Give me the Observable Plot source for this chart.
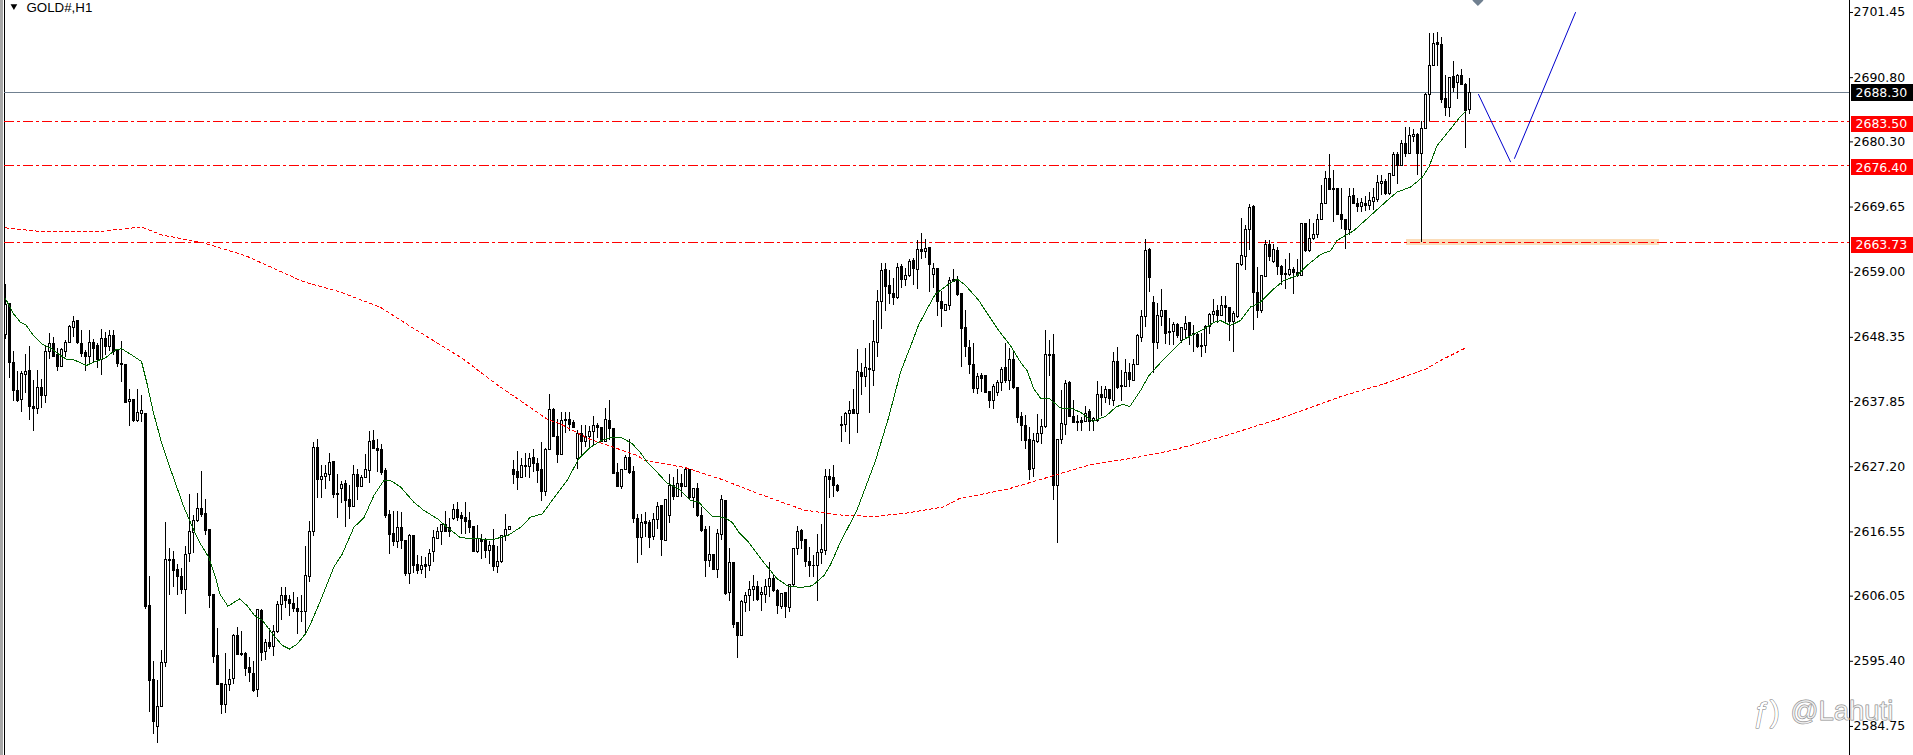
<!DOCTYPE html>
<html>
<head>
<meta charset="utf-8">
<script src="https://cdn.jsdelivr.net/npm/d3@7"></script>
<script src="https://cdn.jsdelivr.net/npm/@observablehq/plot@0.6"></script>
<style>html,body{margin:0;padding:0;background:#fff}svg{display:block}</style>
</head>
<body>
<div id="chart"></div>
<script>
const highs = [
2657.0,2653.8,2646.1,2642.7,2642.7,2645.6,2646.9,2641.3,2642.9,2641.4,
2647.0,2649.0,2648.3,2646.5,2646.5,2647.8,2650.3,2651.8,2651.1,2649.4,
2646.2,2649.4,2648.0,2647.3,2649.6,2649.2,2649.5,2649.4,2646.3,2647.6,
2643.9,2639.9,2638.1,2639.9,2638.8,2635.9,2609.3,2595.4,2592.3,2597.2,
2618.1,2613.8,2613.4,2611.3,2610.5,2614.2,2622.7,2619.2,2622.8,2626.4,
2621.8,2616.8,2606.2,2600.7,2591.7,2596.6,2594.0,2599.8,2600.9,2600.3,
2596.9,2596.1,2595.4,2603.8,2603.9,2598.9,2600.7,2601.2,2605.2,2607.4,
2607.5,2606.2,2606.7,2605.9,2606.1,2614.2,2618.2,2631.2,2631.7,2627.4,
2627.4,2629.3,2628.0,2626.0,2624.8,2624.9,2624.1,2627.4,2626.7,2625.8,
2629.2,2633.0,2633.1,2631.6,2630.8,2626.9,2620.0,2619.9,2619.9,2619.8,
2615.1,2616.1,2615.9,2612.7,2612.5,2612.4,2613.6,2616.8,2617.2,2617.8,
2619.9,2618.7,2621.0,2621.4,2619.8,2621.4,2619.8,2617.4,2617.6,2616.2,
2615.4,2615.0,2617.0,2614.1,2615.9,2619.4,2617.5,2628.2,2629.7,2628.5,
2629.3,2629.3,2630.0,2628.5,2631.2,2630.1,2639.0,2636.7,2635.0,2636.0,
2636.0,2636.0,2634.7,2633.1,2633.9,2633.9,2633.8,2635.4,2634.2,2633.6,
2636.7,2638.1,2633.4,2627.7,2626.6,2629.0,2631.6,2627.2,2619.4,2619.4,
2619.7,2618.4,2619.5,2621.4,2620.9,2621.7,2626.0,2625.5,2626.7,2626.0,
2626.9,2626.7,2623.7,2624.5,2620.6,2617.4,2617.4,2612.7,2617.0,2622.5,
2621.7,2613.8,2611.5,2601.6,2605.3,2606.7,2608.5,2609.4,2608.5,2607.5,
2608.7,2611.6,2609.6,2607.2,2606.5,2606.7,2607.9,2613.9,2617.5,2616.9,
2615.3,2614.0,2612.7,2616.1,2617.8,2626.7,2626.7,2627.4,2624.3,2635.4,
2636.1,2637.8,2639.9,2646.3,2644.0,2646.5,2647.3,2651.1,2656.0,2660.5,
2660.5,2659.3,2657.9,2660.5,2660.2,2659.6,2661.0,2661.2,2664.2,2665.3,
2664.3,2662.9,2660.4,2659.6,2655.9,2653.7,2658.1,2659.5,2658.3,2655.5,
2652.7,2647.8,2647.4,2642.5,2642.4,2642.1,2639.4,2640.6,2641.3,2643.5,
2647.3,2646.5,2645.9,2640.2,2636.1,2635.6,2633.6,2632.6,2635.7,2635.0,
2649.5,2647.8,2648.8,2631.6,2639.6,2641.3,2641.2,2638.1,2635.6,2635.3,
2637.0,2636.5,2635.3,2641.1,2640.3,2640.3,2639.7,2645.8,2646.7,2642.9,
2644.7,2644.0,2644.7,2648.8,2652.7,2664.3,2662.9,2655.0,2653.9,2656.2,
2652.6,2651.4,2650.8,2650.6,2650.0,2651.7,2650.8,2650.3,2648.9,2648.9,
2650.3,2652.2,2654.5,2653.6,2655.0,2655.1,2653.2,2652.6,2660.3,2667.7,
2666.6,2670.1,2669.9,2659.7,2658.3,2664.1,2664.2,2663.6,2663.0,2660.1,
2661.0,2662.1,2659.8,2661.0,2666.9,2666.9,2667.6,2667.0,2668.5,2673.2,
2675.4,2678.3,2675.6,2672.6,2672.6,2667.6,2672.6,2672.6,2671.1,2671.1,
2671.3,2672.1,2672.6,2674.8,2674.8,2674.1,2675.1,2678.6,2678.6,2680.5,
2682.7,2682.7,2682.4,2681.6,2683.6,2688.2,2698.0,2698.0,2698.2,2697.4,
2691.2,2690.9,2693.4,2691.3,2692.2,2689.9,2690.7];

const bodyTops = [
2653.7,2653.8,2644.2,2639.5,2642.3,2642.7,2642.8,2637.0,2640.1,2640.1,
2646.0,2647.3,2647.3,2645.4,2646.3,2647.5,2650.1,2650.9,2651.0,2647.3,
2645.8,2647.5,2647.5,2646.9,2648.0,2648.0,2648.5,2648.5,2646.3,2644.0,
2643.9,2638.1,2638.1,2636.0,2636.3,2635.9,2604.5,2592.3,2588.0,2595.2,
2611.9,2612.0,2612.0,2610.4,2609.2,2612.8,2616.5,2618.4,2620.3,2620.3,
2619.4,2616.8,2606.2,2596.2,2591.7,2591.6,2592.4,2599.6,2599.6,2596.6,
2596.6,2594.3,2593.3,2603.8,2603.7,2598.4,2598.4,2600.2,2604.6,2606.1,
2606.1,2605.4,2604.8,2604.0,2603.5,2609.4,2616.5,2630.3,2630.3,2625.5,
2626.0,2627.8,2627.9,2622.7,2624.2,2624.3,2621.7,2625.9,2625.9,2625.4,
2626.6,2631.3,2631.4,2630.1,2629.9,2626.5,2619.3,2616.2,2617.2,2617.2,
2615.1,2615.9,2615.9,2611.1,2611.0,2611.1,2613.0,2615.5,2616.6,2617.6,
2617.6,2617.2,2620.2,2620.2,2619.2,2618.8,2618.4,2617.3,2615.4,2615.3,
2615.2,2614.2,2614.2,2611.6,2615.9,2616.9,2617.4,2626.6,2626.3,2627.4,
2627.4,2628.5,2628.7,2627.7,2626.6,2630.0,2636.5,2636.5,2632.1,2634.7,
2634.9,2634.9,2634.3,2632.6,2632.6,2632.1,2632.8,2633.8,2633.8,2633.5,
2634.8,2634.6,2633.4,2626.2,2626.6,2628.7,2628.7,2626.3,2618.7,2618.0,
2618.1,2618.0,2618.5,2620.6,2620.8,2621.7,2624.0,2624.1,2624.3,2624.3,
2626.6,2626.7,2623.6,2623.6,2619.1,2616.8,2612.7,2612.7,2616.2,2621.7,
2621.6,2611.5,2611.5,2601.6,2605.1,2606.1,2607.1,2607.6,2607.6,2606.6,
2607.6,2608.9,2608.9,2606.9,2606.4,2606.5,2607.8,2613.7,2616.6,2616.7,
2615.3,2611.6,2611.0,2613.1,2613.6,2625.6,2625.5,2625.3,2624.1,2634.1,
2635.8,2636.3,2636.5,2642.7,2642.6,2643.4,2643.2,2647.6,2654.2,2659.2,
2659.3,2656.7,2655.5,2659.7,2659.8,2658.4,2660.7,2660.8,2662.7,2662.6,
2662.8,2662.9,2659.5,2659.6,2654.2,2653.7,2657.6,2657.8,2657.8,2655.4,
2649.8,2646.6,2643.9,2641.8,2642.0,2642.0,2639.4,2640.3,2640.9,2643.0,
2643.3,2644.6,2644.6,2640.1,2635.4,2633.9,2631.5,2631.4,2632.6,2633.7,
2645.5,2645.5,2645.4,2631.6,2634.2,2640.8,2640.9,2635.3,2634.5,2634.6,
2635.8,2636.2,2635.0,2639.0,2639.0,2639.7,2639.7,2644.4,2644.4,2640.4,
2642.6,2642.6,2643.9,2648.5,2651.6,2662.5,2662.7,2653.9,2651.9,2652.6,
2652.6,2649.3,2650.4,2650.4,2649.8,2650.6,2650.7,2648.9,2648.8,2647.0,
2650.0,2652.0,2652.5,2652.7,2653.5,2653.5,2653.2,2652.1,2660.3,2661.6,
2665.9,2669.5,2669.7,2655.6,2658.3,2663.5,2663.5,2662.7,2662.5,2659.9,
2658.7,2659.3,2659.4,2658.9,2666.8,2666.9,2664.5,2665.1,2667.6,2670.2,
2674.2,2674.2,2672.6,2672.6,2668.4,2667.6,2671.3,2671.5,2670.2,2670.3,
2670.2,2670.6,2671.1,2673.6,2673.8,2673.8,2675.0,2678.2,2678.2,2680.0,
2680.0,2681.2,2681.5,2681.5,2682.4,2687.9,2692.7,2696.3,2696.5,2696.2,
2687.3,2690.8,2690.9,2691.1,2691.1,2689.6,2688.3];

const bodyBottoms = [
2648.7,2644.1,2639.5,2638.0,2638.1,2642.2,2636.9,2636.6,2636.6,2638.7,
2638.7,2646.0,2645.2,2643.5,2643.5,2646.0,2647.4,2649.9,2647.4,2645.6,
2645.1,2645.1,2646.5,2644.6,2644.6,2646.8,2646.8,2646.0,2644.0,2643.8,
2637.7,2637.8,2634.6,2634.6,2635.9,2604.2,2592.1,2585.4,2584.6,2587.9,
2595.1,2611.8,2610.2,2609.2,2607.0,2607.0,2612.9,2616.3,2618.4,2619.3,
2616.7,2606.0,2596.1,2591.6,2588.2,2588.2,2591.5,2592.5,2596.5,2596.5,
2594.1,2593.5,2590.6,2590.7,2596.8,2596.9,2597.7,2597.7,2600.2,2604.6,
2605.3,2604.7,2604.0,2603.4,2603.4,2603.5,2609.1,2616.6,2625.0,2625.0,
2625.5,2625.9,2622.6,2622.5,2623.5,2621.6,2620.6,2620.7,2623.9,2623.9,
2625.3,2626.5,2630.1,2629.8,2626.2,2619.2,2616.0,2614.9,2614.9,2615.1,
2609.7,2609.6,2611.0,2610.2,2610.4,2610.8,2611.0,2613.2,2615.4,2616.6,
2616.5,2616.5,2618.6,2618.9,2618.7,2618.1,2617.2,2613.3,2613.2,2614.9,
2613.5,2613.5,2610.8,2610.8,2611.6,2615.9,2616.8,2625.9,2625.3,2625.3,
2627.1,2627.1,2627.7,2626.5,2623.0,2623.0,2630.0,2632.1,2629.1,2629.1,
2634.7,2634.1,2633.6,2628.4,2631.2,2631.2,2632.0,2632.9,2633.5,2631.2,
2631.2,2633.4,2626.0,2623.9,2623.9,2626.6,2626.2,2618.6,2615.5,2615.5,
2617.8,2615.6,2615.7,2618.5,2615.3,2615.1,2619.2,2622.3,2622.2,2623.9,
2623.9,2622.1,2622.1,2619.1,2616.7,2611.8,2611.8,2610.3,2610.3,2616.1,
2606.4,2606.5,2601.4,2599.6,2599.5,2605.0,2606.0,2607.0,2605.4,2606.2,
2606.3,2607.5,2606.9,2604.4,2604.3,2604.2,2604.1,2607.8,2613.7,2615.0,
2611.6,2610.9,2610.9,2611.0,2613.1,2613.5,2625.1,2624.1,2623.2,2633.9,
2634.0,2635.8,2635.9,2635.9,2641.8,2641.9,2643.0,2642.8,2647.4,2654.1,
2656.6,2655.4,2654.7,2654.7,2657.8,2657.8,2658.3,2659.5,2659.3,2662.3,
2662.3,2660.1,2658.5,2654.1,2653.0,2652.7,2653.4,2657.4,2655.2,2649.7,
2646.7,2643.8,2639.9,2639.9,2641.6,2639.3,2638.0,2638.0,2639.2,2640.9,
2641.2,2641.2,2640.0,2635.2,2633.8,2631.4,2626.7,2626.8,2631.2,2632.6,
2633.7,2645.3,2624.0,2624.0,2631.6,2634.1,2635.3,2634.3,2634.3,2634.3,
2634.5,2634.5,2634.6,2634.7,2638.5,2638.5,2638.2,2638.0,2640.1,2640.2,
2640.3,2641.3,2641.2,2643.8,2648.3,2651.6,2658.1,2647.5,2647.5,2651.7,
2648.9,2649.0,2649.3,2648.5,2647.7,2649.6,2648.6,2648.7,2646.7,2646.7,
2646.9,2650.0,2652.0,2651.8,2651.9,2653.2,2650.8,2650.8,2651.7,2660.2,
2661.5,2665.9,2655.6,2652.6,2652.6,2658.2,2661.5,2660.6,2659.9,2658.6,
2658.5,2658.6,2658.8,2658.3,2658.3,2662.4,2662.4,2664.4,2665.1,2667.5,
2670.2,2672.5,2672.4,2668.3,2667.5,2665.9,2665.9,2670.1,2669.6,2669.6,
2669.8,2669.8,2670.4,2670.8,2673.4,2671.8,2671.8,2674.8,2676.3,2676.3,
2678.4,2678.4,2681.1,2678.3,2678.3,2682.4,2687.9,2692.7,2696.1,2687.2,
2685.8,2685.8,2689.1,2689.9,2689.6,2685.4,2685.5];

const lows = [
2648.0,2641.7,2637.9,2637.7,2636.1,2639.1,2634.7,2633.0,2635.7,2636.7,
2637.6,2644.8,2645.0,2642.8,2643.4,2645.1,2647.3,2648.4,2647.2,2645.1,
2642.7,2643.7,2644.1,2643.2,2642.1,2645.4,2646.1,2645.4,2643.4,2641.0,
2637.6,2633.7,2634.5,2634.5,2634.5,2603.9,2587.1,2583.5,2581.9,2587.8,
2594.4,2606.2,2607.5,2606.2,2606.3,2603.0,2611.5,2613.0,2618.1,2618.9,
2616.0,2604.0,2595.0,2591.5,2586.7,2586.9,2590.5,2591.6,2596.3,2596.2,
2592.9,2592.0,2590.3,2589.4,2595.4,2595.5,2597.3,2596.2,2600.0,2602.1,
2604.0,2602.7,2603.4,2599.8,2601.8,2599.6,2608.3,2615.8,2622.0,2622.0,
2623.4,2624.8,2622.0,2618.8,2621.2,2617.2,2618.5,2620.5,2621.6,2623.8,
2625.2,2624.5,2630.0,2626.3,2625.8,2618.8,2612.9,2614.1,2613.9,2613.6,
2609.3,2608.0,2609.7,2609.6,2609.6,2608.9,2610.0,2611.6,2615.3,2614.3,
2616.5,2615.6,2618.4,2618.3,2616.2,2616.2,2616.3,2613.2,2613.0,2612.0,
2612.2,2611.3,2610.0,2609.8,2611.4,2615.0,2616.8,2624.3,2623.3,2625.2,
2625.4,2625.2,2626.2,2624.4,2621.5,2622.3,2629.9,2631.9,2627.8,2629.0,
2632.7,2632.9,2633.4,2626.7,2628.8,2630.4,2630.1,2630.7,2631.8,2631.1,
2631.1,2631.5,2625.9,2623.8,2623.4,2626.6,2626.0,2618.0,2611.4,2612.7,
2615.7,2613.8,2615.1,2617.0,2612.5,2615.0,2617.9,2621.7,2622.1,2622.2,
2623.8,2621.9,2620.3,2618.9,2616.5,2609.1,2610.8,2610.2,2608.9,2615.1,
2606.1,2605.2,2600.7,2595.8,2599.4,2603.3,2603.6,2605.1,2605.2,2603.5,
2604.8,2605.9,2606.7,2603.1,2603.8,2602.4,2603.4,2607.7,2612.7,2613.6,
2610.8,2609.1,2609.1,2605.2,2611.3,2612.7,2622.0,2622.2,2623.0,2631.2,
2632.8,2630.9,2635.9,2632.7,2638.8,2640.2,2635.9,2640.3,2645.1,2649.7,
2652.5,2653.7,2653.6,2654.5,2656.4,2656.7,2658.2,2656.8,2656.1,2661.0,
2661.2,2655.7,2656.4,2651.8,2649.9,2652.7,2652.7,2657.3,2655.1,2643.5,
2645.1,2642.3,2639.1,2639.0,2639.4,2639.2,2636.8,2636.6,2638.7,2639.5,
2640.8,2639.7,2639.9,2634.2,2631.4,2630.0,2624.9,2625.4,2631.0,2630.8,
2633.4,2642.0,2621.6,2614.6,2630.8,2632.3,2635.2,2634.2,2632.9,2633.0,
2634.5,2633.0,2632.9,2634.5,2635.4,2637.5,2637.2,2637.0,2639.9,2637.8,
2640.2,2640.2,2641.1,2643.7,2647.5,2649.9,2655.7,2642.4,2646.4,2650.1,
2647.2,2647.0,2647.0,2648.1,2647.4,2648.1,2647.0,2645.8,2646.6,2645.1,
2645.7,2648.8,2650.6,2650.6,2651.8,2650.8,2647.6,2645.8,2651.4,2660.0,
2659.3,2662.5,2649.4,2651.4,2652.3,2658.1,2660.8,2660.5,2658.4,2656.8,
2656.2,2658.3,2655.4,2658.2,2658.3,2662.3,2662.2,2664.2,2664.5,2667.4,
2670.1,2672.3,2667.2,2668.2,2666.0,2662.7,2665.0,2670.0,2668.8,2668.8,
2669.0,2669.1,2669.1,2670.4,2671.5,2671.6,2671.5,2674.7,2673.4,2676.2,
2677.8,2678.2,2680.2,2674.8,2663.8,2682.3,2683.6,2692.6,2692.7,2686.6,
2684.5,2684.3,2688.4,2687.3,2689.5,2679.3,2684.7];

const rising =
"1000110010110011110001001010000101100011" +
"1000011110000001110000010101110000011101" +
"1100100101110000001001001011110010000010" +
"0101111001010001100100010111001000110001" +
"0011011010101000101101001111011100101110" +
"0001110000110101011100010110101010011000" +
"0001000111010000011110011100001011010100" +
"1011110011001011000011101001111100110100" +
"0100101111100000100101111011010110111100" +
"0101001";

const greenBars = [1,3,4.75,6,8,10,12.25,14.75,16.4,18,21.25,23,26,28.5,30,32.7,35,36.4,38,40.2,43.1,45.6,48.1,49.75,51.8,53.5,54.6,56.6,59.5,61.4,63.25,65.2,68.1,70.2,72,74,76,77.25,79.75,83.1,85.2,88.1,90.6,93.1,95.6,97.25,99.75,103.1,105.6,109,111.4,114.75,119.75,123,126.8,129.75,132.25,135.2,138.9,141.4,144.3,147.25,149.75,151.85,155.2,157.7,159.75,161.4,163.9,166.4,169.3,172.25,174.3,177.7,180.6,182.7,184.3,186.8,190.2,193.9,196.8,200.2,202.7,205.6,207.25,209.75,213.8,218.5,221.8,224.75,227.8,229.3,231.4,233.5,236.4,238.9,241,244.3,246.8,249.3,252.25,254.75,256.4,258.1,259.9,262,264.75,267.25,269.75,272.7,276,278.5,280.2,282.1,284.75,286.85,289.75,292.25,295.2,298.1,300.6,303.1,304.75,307.25,309.75,312.25,314.75,318.1,320.6,323.9,326.4,329.75,332.25,333.9,338.1,342.25,346.4,348.9,352.25,355.2,356.85,358.9,362.25,364.3,366];
const greenPrices = [2654.65,2652.2,2650.8,2650.45,2648.65,2647.3,2646.6,2645.4,2644.7,2644.7,2643.75,2644.3,2645,2646.3,2646.5,2645.4,2644.4,2640.75,2636,2630.7,2625.2,2620.6,2616.8,2614.6,2612.4,2609.15,2606.4,2604.4,2605.6,2604.5,2602.9,2602.1,2599.6,2598,2597.4,2598.25,2599.9,2601.5,2605.3,2610.8,2612.95,2617.3,2618.85,2622.5,2624.95,2624.95,2623.9,2621.4,2620.05,2618.7,2617.3,2615.6,2615.4,2615.3,2616.05,2617.3,2618.95,2619.5,2622.8,2624.95,2628.5,2630.4,2631.4,2631.9,2631.9,2630.95,2629.5,2627.95,2626.3,2624.5,2623.6,2621.7,2621.4,2619.05,2618.95,2618.1,2616.5,2614.85,2611.85,2608.9,2607.6,2607.5,2607.75,2609.4,2611.2,2614.9,2620,2628.2,2635.3,2642.65,2647.8,2650.4,2653,2655.45,2656.85,2657.9,2656.85,2654.4,2651.9,2649.45,2647,2644.3,2642.9,2639.9,2638.3,2638.3,2636.8,2636.8,2636.1,2634.65,2635.4,2636.9,2637.4,2637.05,2639.65,2642.1,2644.2,2645.85,2647.85,2648.9,2649.7,2650.8,2651.1,2650.3,2651.1,2653.3,2654.1,2656.3,2657.65,2658.45,2660.1,2661.9,2662.5,2664.2,2665.8,2668.25,2670.7,2672.1,2672.9,2674.5,2676.2,2679.7,2682.4,2684.1,2685.3];

const redBars = [1,9,25.25,35,40,50.75,61,75.25,84.45,94.65,102.8,115,124.25,136.5,139.75,146.7,158.9,160.75,170.97,180.2,189.35,200.5,208.75,217.9,226,235.25,239.35,251.6,261.75,272,283.2,292.4,304.65,319.75,334.95,346.1,356.25,359.25,366.4];
const redPrices = [2666.25,2665.7,2665.7,2666.4,2665.1,2663.75,2661.7,2657.5,2655.8,2653.3,2649.9,2645,2640.45,2634.95,2634.2,2631.8,2629.05,2628.25,2627.05,2625.1,2622.75,2620.15,2619.35,2619.05,2619.6,2620.6,2621.95,2623.55,2625.5,2627.5,2628.65,2629.85,2632,2635.1,2638.7,2640.85,2643.2,2644.4,2646.75];

const downLegBars = [369.25,377.25];
const downLegPrices = [2688.06,2677.05];
const upLegBars = [378.25,393.5];
const upLegPrices = [2677.6,2701.45];

const levelPrices = [2683.50,2676.40,2663.73];
const lastPrice = 2688.30;
const axisTicks = [2701.45,2690.80,2680.30,2669.65,2659.00,2648.35,2637.85,2627.20,2616.55,2606.05,2595.40,2584.75];

const FONT = "DejaVu Sans";
const bars = d3.range(highs.length);
const crisp = {shapeRendering: "crispEdges"};

const chart = Plot.plot({
  width: 1913,
  height: 755,
  marginLeft: 5,
  marginRight: 64,
  marginTop: 0,
  marginBottom: 0,
  style: {background: "#fff", fontFamily: FONT},
  x: {domain: [1, 462], axis: null},
  y: {domain: [2580, 2703.41], axis: null},
  marks: [
    // left window edge
    Plot.rect([0], {x1: -0.25, x2: 0.5, y1: 2580, y2: 2703.41, fill: "#a8a8a8", ...crisp}),
    Plot.ruleX([0.75], {stroke: "#000", ...crisp}),
    // highlighted zone
    Plot.rect([0], {x1: 351.2, x2: 414.5, y1: 2664.4, y2: 2663.3, fill: "#fbdcb8", ...crisp}),
    // horizontal levels
    Plot.ruleY([lastPrice], {x1: 0.75, x2: 462, stroke: "#708090", dy: -0.5, ...crisp}),
    Plot.ruleY(levelPrices, {x1: 0.75, x2: 462, stroke: "#ff0000", strokeDasharray: "10 3 3 3", dy: -0.5, ...crisp}),
    // candles
    Plot.ruleX(bars, {x: i => i + 1, y1: i => lows[i], y2: i => highs[i], stroke: "#000", ...crisp}),
    Plot.rect(bars, {
      x1: i => i + 1 - 0.25,
      x2: i => i + 1 + 0.25,
      y1: i => bodyBottoms[i],
      y2: i => bodyTops[i],
      fill: i => rising[i] === "1" ? "#fff" : "#000",
      stroke: "#000",
      ...crisp
    }),
    // moving averages
    Plot.line(d3.range(redBars.length), {x: i => redBars[i], y: i => redPrices[i], stroke: "#ff0000", strokeWidth: 1, strokeDasharray: "3 3", ...crisp}),
    Plot.line(d3.range(greenBars.length), {x: i => greenBars[i], y: i => greenPrices[i], stroke: "#006400", strokeWidth: 1, ...crisp}),
    // projected path
    Plot.line(d3.range(2), {x: i => downLegBars[i], y: i => downLegPrices[i], stroke: "#0000cd", strokeWidth: 1}),
    Plot.line(d3.range(2), {x: i => upLegBars[i], y: i => upLegPrices[i], stroke: "#0000cd", strokeWidth: 1}),
    Plot.dot([0], {x: 369.1, y: 2703.41, symbol: "diamond2", r: 5, fill: "#708090"}),
    // price axis
    Plot.ruleX([462], {stroke: "#000", ...crisp}),
    Plot.axisY({
      anchor: "right",
      ticks: axisTicks,
      tickFormat: d => d.toFixed(2),
      tickSize: 3,
      tickPadding: 1,
      label: null,
      fontSize: 12.5,
      fontFamily: FONT,
      color: "#000"
    }),
    // price tags
    Plot.rect([lastPrice], {x1: 462.4, x2: 478, y1: d => d + 1.39, y2: d => d - 1.39, fill: "#000", ...crisp}),
    Plot.rect(levelPrices, {x1: 462.4, x2: 478, y1: d => d + 1.3, y2: d => d - 1.3, fill: "#ff0000", dy: 2, ...crisp}),
    Plot.text([lastPrice], {x: 463.5, y: d => d, text: d => d.toFixed(2), fill: "#fff", textAnchor: "start", fontSize: 12.5, fontFamily: FONT}),
    Plot.text(levelPrices, {x: 463.5, y: d => d, text: d => d.toFixed(2), fill: "#fff", textAnchor: "start", fontSize: 12.5, fontFamily: FONT, dy: 2}),
    // title
    Plot.dot([0], {x: 3.1, y: 2702.5, symbol: "triangle2", rotate: 180, r: 3.2, fill: "#000"}),
    Plot.text(["GOLD#,H1"], {frameAnchor: "top-left", dx: 21, dy: 2.5, fontSize: 13.3, fill: "#000", fontFamily: "Liberation Sans"}),
    // watermark
    Plot.text(["ƒ)"], {x: 441.25, y: 2587, fontSize: 30, fill: "#fff", stroke: "#777", strokeWidth: 1, fontFamily: "Liberation Sans"}),
    Plot.text(["@Lahuti"], {x: 447.25, y: 2587.2, textAnchor: "start", fontSize: 27.5, fill: "#fff", fillOpacity: 0.6, stroke: "#888", strokeWidth: 1, fontFamily: "Liberation Sans"})
  ]
});
document.getElementById("chart").append(chart);
</script>
</body>
</html>
